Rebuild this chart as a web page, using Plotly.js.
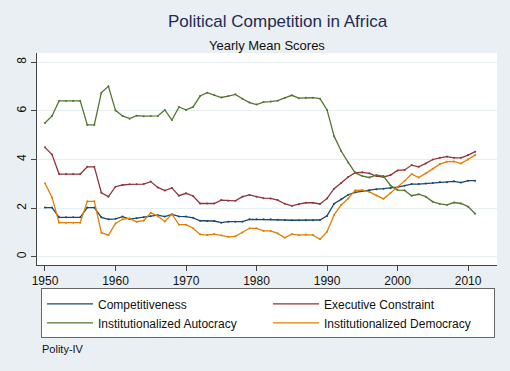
<!DOCTYPE html>
<html>
<head>
<meta charset="utf-8">
<script src="https://cdn.plot.ly/plotly-3.0.1.min.js"></script>
<style>html,body{margin:0;padding:0;background:#e9eff2;}#chart{width:510px;height:371px;}</style>
</head>
<body>
<div id="chart"></div>
<script>
const years = [];
for (let y = 1950; y <= 2011; y++) years.push(y);

const competitiveness = [2.02,2.02,1.62,1.62,1.62,1.62,2.02,2.02,1.62,1.54,
  1.56,1.65,1.55,1.58,1.62,1.67,1.71,1.65,1.74,1.66,
  1.65,1.60,1.48,1.47,1.47,1.40,1.44,1.44,1.44,1.54,
  1.54,1.54,1.54,1.52,1.51,1.50,1.50,1.50,1.50,1.51,
  1.68,2.18,2.36,2.55,2.65,2.70,2.75,2.78,2.80,2.82,
  2.86,2.92,2.99,2.99,3.01,3.03,3.07,3.06,3.10,3.05,
  3.13,3.13];
const execConstraint = [4.50,4.20,3.40,3.40,3.40,3.40,3.70,3.70,2.63,2.47,
  2.88,2.95,2.98,2.98,2.99,3.09,2.85,2.72,2.83,2.51,
  2.61,2.50,2.19,2.19,2.19,2.33,2.30,2.30,2.47,2.54,
  2.47,2.41,2.40,2.33,2.18,2.09,2.16,2.22,2.22,2.17,
  2.40,2.80,3.03,3.28,3.46,3.47,3.43,3.32,3.28,3.36,
  3.55,3.57,3.77,3.70,3.84,4.00,4.07,4.12,4.07,4.07,
  4.18,4.32];
const autocracy = [5.50,5.79,6.41,6.41,6.41,6.41,5.42,5.42,6.75,7.01,
  6.02,5.79,5.68,5.80,5.78,5.79,5.79,6.04,5.62,6.16,
  6.04,6.16,6.61,6.75,6.65,6.55,6.61,6.68,6.50,6.34,
  6.26,6.36,6.38,6.42,6.53,6.64,6.52,6.54,6.54,6.50,
  6.04,4.96,4.35,3.88,3.45,3.32,3.26,3.36,3.32,2.93,
  2.74,2.73,2.51,2.57,2.47,2.26,2.17,2.13,2.23,2.19,
  2.06,1.77];
const democracy = [3.02,2.44,1.40,1.40,1.40,1.40,2.28,2.28,0.99,0.89,
  1.37,1.54,1.58,1.44,1.48,1.81,1.67,1.45,1.76,1.32,
  1.32,1.17,0.92,0.89,0.93,0.88,0.82,0.84,1.00,1.17,
  1.17,1.06,1.06,0.96,0.78,0.93,0.89,0.91,0.89,0.72,
  1.03,1.72,2.13,2.40,2.73,2.74,2.67,2.52,2.38,2.62,
  2.86,3.12,3.40,3.26,3.43,3.62,3.81,3.91,3.92,3.83,
  4.00,4.18];

const seriesNames = ["Competitiveness","Executive Constraint","Institutionalized Autocracy","Institutionalized Democracy"];
const seriesData = [competitiveness, execConstraint, autocracy, democracy];
const colors = ["#1a476f","#90353b","#55752f","#e37e00"];

const traces = seriesData.map((d, i) => ({
  x: years, y: d, name: seriesNames[i], type: "scatter", mode: "lines+markers",
  line: {color: colors[i], width: 1.3},
  marker: {color: colors[i], size: 2},
  showlegend: false, legendgroup: "g" + i
}));
const legendTraces = seriesData.map((d, i) => ({
  x: [null], y: [null], name: seriesNames[i], type: "scatter", mode: "lines",
  line: {color: colors[i], width: 1.3}, showlegend: true, legendgroup: "g" + i
}));

const font = "Liberation Sans, Arial, Helvetica, sans-serif";
const layout = {
  width: 510, height: 371,
  paper_bgcolor: "#e9eff2", plot_bgcolor: "#ffffff",
  margin: {l: 37, r: 13, t: 53, b: 106},
  font: {family: font, size: 12, color: "#111"},
  title: {text: "Political Competition in Africa", x: 0.523, xanchor: "center", xref: "paper",
          y: 1 - 21/371, yanchor: "middle", yref: "container",
          font: {family: font, size: 17, color: "#1f2b52"}},
  xaxis: {range: [1948.87, 2014.1], tickvals: [1950,1960,1970,1980,1990,2000,2010],
          ticks: "outside", ticklen: 5, tickcolor: "#444", showline: true, linecolor: "#444", linewidth: 1,
          showgrid: false, zeroline: false, tickfont: {size: 12, color: "#111"}},
  yaxis: {range: [-0.34, 8.38], tickvals: [0,2,4,6,8], tickangle: -90,
          ticks: "outside", ticklen: 5, tickcolor: "#444", showline: true, linecolor: "#444", linewidth: 1,
          showgrid: true, gridcolor: "#e6eef1", gridwidth: 1, zeroline: false, tickfont: {size: 12, color: "#111"}},
  showlegend: true,
  legend: {orientation: "h", x: 0.0087, xanchor: "left", y: -0.11, yanchor: "top",
           bgcolor: "#ffffff", bordercolor: "#666", borderwidth: 1,
           entrywidth: 165, entrywidthmode: "pixels", itemwidth: 46,
           font: {size: 12, color: "#111"}, tracegroupgap: 0, traceorder: "normal"},
  annotations: [
    {text: "Yearly Mean Scores", xref: "paper", yref: "paper", x: 0.5, xanchor: "center",
     y: (265-45)/212, yanchor: "middle", showarrow: false, font: {size: 13, color: "#111"}},
    {text: "Polity-IV", xref: "paper", yref: "paper", x: 0.0065, xanchor: "left",
     y: (265-349)/212, yanchor: "middle", showarrow: false, font: {size: 11, color: "#111"}}
  ]
};

Plotly.newPlot("chart", traces.concat(legendTraces), layout, {displayModeBar: false, staticPlot: true});
</script>
</body>
</html>
